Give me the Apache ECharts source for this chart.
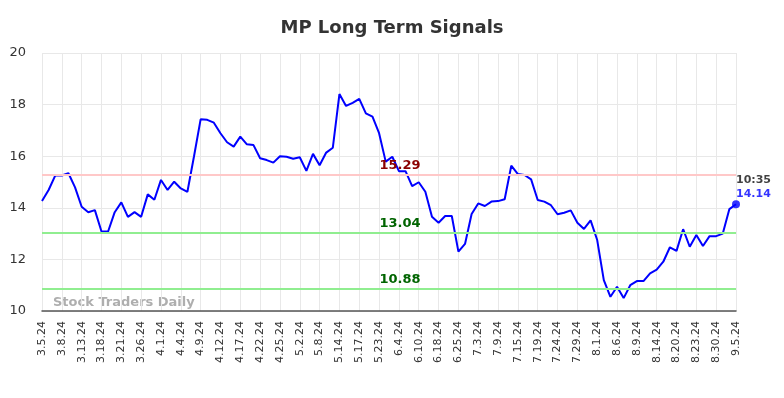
<!DOCTYPE html>
<html>
<head>
<meta charset="utf-8">
<script src="https://cdn.jsdelivr.net/npm/echarts@6/dist/echarts.min.js"></script>
<style>
  html, body { margin: 0; padding: 0; background: #fff; }
  #chart { width: 784px; height: 398px; }
</style>
</head>
<body>
<div id="chart"></div>
<script>
var dates = [
  '3.5.24','3.6.24','3.7.24','3.8.24','3.11.24','3.12.24','3.13.24','3.14.24','3.15.24',
  '3.18.24','3.19.24','3.20.24','3.21.24','3.22.24','3.25.24','3.26.24','3.27.24','3.28.24',
  '4.1.24','4.2.24','4.3.24','4.4.24','4.5.24','4.8.24','4.9.24','4.10.24','4.11.24',
  '4.12.24','4.15.24','4.16.24','4.17.24','4.18.24','4.19.24','4.22.24','4.23.24','4.24.24',
  '4.25.24','4.26.24','4.30.24','5.2.24','5.3.24','5.6.24','5.8.24','5.10.24','5.13.24',
  '5.14.24','5.15.24','5.16.24','5.17.24','5.20.24','5.22.24','5.23.24','5.28.24','5.31.24',
  '6.4.24','6.5.24','6.7.24','6.10.24','6.12.24','6.14.24','6.18.24','6.20.24','6.21.24',
  '6.25.24','6.27.24','7.1.24','7.3.24','7.5.24','7.8.24','7.9.24','7.11.24','7.12.24',
  '7.15.24','7.16.24','7.18.24','7.19.24','7.22.24','7.23.24','7.24.24','7.25.24','7.26.24',
  '7.29.24','7.30.24','7.31.24','8.1.24','8.2.24','8.5.24','8.6.24','8.7.24','8.8.24',
  '8.9.24','8.12.24','8.13.24','8.14.24','8.15.24','8.19.24','8.20.24','8.21.24','8.22.24',
  '8.23.24','8.27.24','8.29.24','8.30.24','9.3.24','9.4.24','9.5.24'
];
var prices = [
  14.26,14.69,15.25,15.25,15.34,14.79,14.04,13.83,13.91,
  13.08,13.08,13.83,14.21,13.65,13.83,13.65,14.52,14.31,
  15.08,14.69,15.01,14.75,14.62,16.0,17.43,17.41,17.3,
  16.89,16.54,16.37,16.76,16.46,16.43,15.92,15.85,15.75,
  16.0,15.98,15.9,15.96,15.43,16.09,15.65,16.14,16.33,
  18.41,17.95,18.07,18.22,17.66,17.53,16.89,15.79,15.98,
  15.42,15.42,14.84,14.99,14.62,13.65,13.42,13.68,13.68,
  12.3,12.6,13.76,14.17,14.07,14.24,14.26,14.33,15.63,
  15.31,15.27,15.1,14.3,14.24,14.1,13.75,13.81,13.9,
  13.42,13.18,13.51,12.75,11.2,10.55,10.94,10.5,11.0,
  11.16,11.16,11.46,11.6,11.91,12.47,12.33,13.17,12.49,
  12.95,12.52,12.9,12.9,13.0,13.95,14.14
];
var redLevels = [15.29];
var greenLevels = [13.04, 10.88];
var lastTime = '10:35';

var lastIdx = prices.length - 1;

var levelLines = [];
redLevels.forEach(function (v) {
  levelLines.push({
    yAxis: v,
    lineStyle: { color: '#ffc8c8', width: 2, type: 'solid' },
    label: { color: '#8b0000' }
  });
});
greenLevels.forEach(function (v) {
  levelLines.push({
    yAxis: v,
    lineStyle: { color: '#90ee90', width: 2, type: 'solid' },
    label: { color: '#006400' }
  });
});

var chart = echarts.init(document.getElementById('chart'));
chart.setOption({
  animation: false,
  textStyle: { fontFamily: 'DejaVu Sans' },
  title: {
    text: 'MP Long Term Signals',
    left: 'center',
    top: 14,
    textStyle: { fontSize: 18, fontWeight: 'bold', color: '#333', fontFamily: 'DejaVu Sans' }
  },
  grid: { left: 42, right: 48, top: 53, bottom: 87 },
  xAxis: {
    type: 'category',
    data: dates,
    boundaryGap: false,
    axisLine: { lineStyle: { color: '#555', width: 1.5 } },
    axisTick: { show: false },
    axisLabel: {
      interval: 2,
      rotate: 90,
      color: '#333',
      fontSize: 11,
      margin: 10
    },
    splitLine: { show: true, interval: 2, lineStyle: { color: '#e8e8e8' } }
  },
  yAxis: {
    type: 'value',
    min: 10,
    max: 20,
    interval: 2,
    axisLine: { show: false },
    axisTick: { show: false },
    axisLabel: { color: '#333', fontSize: 13, margin: 16 },
    splitLine: { lineStyle: { color: '#e8e8e8' } }
  },
  graphic: [{
    type: 'text',
    left: 53,
    top: 296,
    style: {
      text: 'Stock Traders Daily',
      fill: 'rgba(160,160,160,0.85)',
      font: 'bold 13px "DejaVu Sans"'
    }
  }],
  series: [
    {
      type: 'line',
      data: prices,
      showSymbol: false,
      symbol: 'none',
      lineStyle: { color: '#0000ff', width: 2 },
      itemStyle: { color: '#0000ff' },
      z: 3,
      markLine: {
        silent: true,
        symbol: 'none',
        data: levelLines,
        label: {
          position: 'insideMiddleTop',
          formatter: function (p) { return p.value.toFixed(2); },
          fontSize: 13,
          fontWeight: 'bold',
          padding: [0, 0, 0, 22],
          distance: 2
        }
      }
    },
    {
      type: 'scatter',
      data: [[lastIdx, prices[lastIdx]]],
      symbolSize: 8,
      itemStyle: { color: '#0000ff' },
      z: 4,
      label: {
        show: true,
        position: 'top',
        align: 'left',
        offset: [0, 6],
        formatter: function (p) { return '{t|' + lastTime + '}\n{v|' + p.value[1].toFixed(2) + '}'; },
        rich: {
          t: { color: '#111', fontSize: 11, fontWeight: 'bold', lineHeight: 14 },
          v: { color: '#0000ff', fontSize: 11, fontWeight: 'bold', lineHeight: 14 }
        }
      }
    }
  ]
});
</script>
</body>
</html>
